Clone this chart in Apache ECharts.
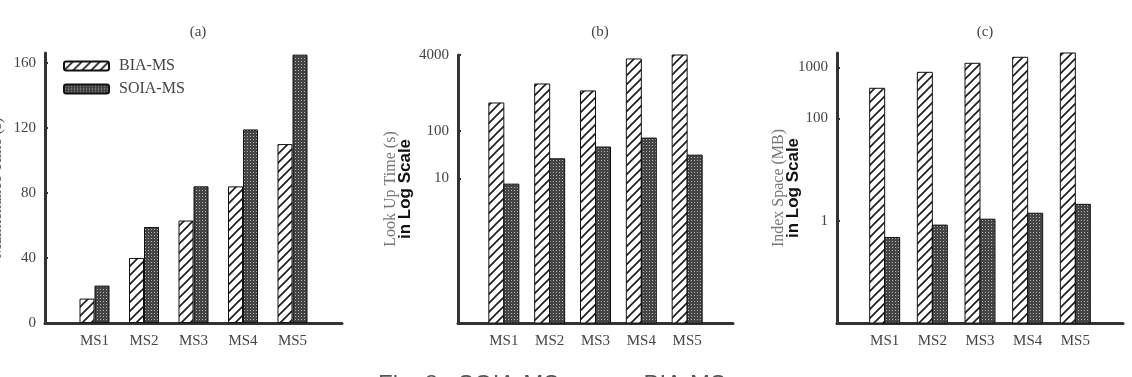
<!DOCTYPE html>
<html>
<head>
<meta charset="utf-8">
<script src="https://cdn.jsdelivr.net/npm/echarts@6/dist/echarts.min.js"></script>
<style>
html, body { margin: 0; padding: 0; background: #fff; }
#chart { width: 1132px; height: 377px; }
</style>
</head>
<body>
<div id="chart"></div>
<script>
var categories = ['MS1', 'MS2', 'MS3', 'MS4', 'MS5'];
var seriesNames = ['BIA-MS', 'SOIA-MS'];
// (a) maintenance time (s)
var maintBIA = [15, 40, 63, 84, 110];
var maintSOIA = [23, 59, 84, 119, 165];
// (b) look up time (s), log scale
var lookupBIA = [390, 980, 700, 3300, 4000];
var lookupSOIA = [7.6, 26, 46, 71, 31];
// (c) index space (MB), log scale
var spaceBIA = [388, 796, 1195, 1566, 1900];
var spaceSOIA = [0.47, 0.82, 1.07, 1.4, 2.09];
// tick labels
var ticksA = [0, 40, 80, 120, 160];
var ticksB = [10, 100, 4000];
var ticksC = [1, 100, 1000];

var serif = '"Liberation Serif", "DejaVu Serif", serif';
var sans = '"Liberation Sans", Arial, sans-serif';

// padded category list so the bars sit one step in from both ends
var axisCats = [''].concat(categories).concat([' ']);

function hatchPattern() {
    var s = 9;
    var c = document.createElement('canvas');
    c.width = s; c.height = s;
    var g = c.getContext('2d');
    g.fillStyle = '#fff';
    g.fillRect(0, 0, s, s);
    g.strokeStyle = '#1a1a1a';
    g.lineWidth = 1.6;
    g.beginPath();
    g.moveTo(0, s); g.lineTo(s, 0);
    g.moveTo(-2, 2); g.lineTo(2, -2);
    g.moveTo(s - 2, s + 2); g.lineTo(s + 2, s - 2);
    g.stroke();
    return { image: c, repeat: 'repeat' };
}

function dotPattern() {
    var c = document.createElement('canvas');
    c.width = 3; c.height = 3;
    var g = c.getContext('2d');
    g.fillStyle = '#454545';
    g.fillRect(0, 0, 3, 3);
    g.fillStyle = '#b0b0b0';
    g.fillRect(1, 1, 1, 1);
    return { image: c, repeat: 'repeat' };
}

var fills = [hatchPattern(), dotPattern()];

function pairs(values) {
    return values.map(function (v, i) { return [categories[i], v]; });
}

// bars on the log axes start from the axis minimum
function logBars(name, values, gridIdx, side, axisMin, fill) {
    return {
        name: name,
        type: 'custom',
        xAxisIndex: gridIdx,
        yAxisIndex: gridIdx,
        data: pairs(values),
        encode: { x: 0, y: 1 },
        renderItem: function (params, api) {
            var top = api.coord([api.value(0), api.value(1)]);
            var base = api.coord([api.value(0), axisMin]);
            var w = 15;
            return {
                type: 'rect',
                shape: { x: side < 0 ? top[0] - w : top[0], y: top[1], width: w, height: base[1] - top[1] },
                style: { fill: fill, stroke: '#111', lineWidth: 1 }
            };
        }
    };
}

function xAxis(gridIdx) {
    return {
        type: 'category',
        gridIndex: gridIdx,
        data: axisCats,
        boundaryGap: false,
        axisLine: { lineStyle: { color: '#333', width: 3 } },
        axisTick: { show: false },
        axisLabel: { fontFamily: serif, fontSize: 15, color: '#444', margin: 11 },
        splitLine: { show: false }
    };
}

function yAxisBase(gridIdx) {
    return {
        gridIndex: gridIdx,
        nameLocation: 'middle',
        nameRotate: 90,
        nameMoveOverlap: false,
        axisLine: { show: true, lineStyle: { color: '#333', width: 3 } },
        axisTick: { show: true, inside: true, length: 3, lineStyle: { color: '#333', width: 2 } },
        axisLabel: {
            fontFamily: serif, fontSize: 15, color: '#444', margin: 9,
            formatter: function (v) { return String(Math.round(v)); }
        },
        splitLine: { show: false }
    };
}

var logName = {
    rich: {
        a: { fontFamily: serif, fontSize: 16, color: '#777', lineHeight: 15 },
        b: { fontFamily: sans, fontSize: 17, fontWeight: 'bold', color: '#111', lineHeight: 15 }
    }
};

var yA = yAxisBase(0);
yA.type = 'value';
yA.min = 0;
yA.max = 166;
yA.interval = 40;
yA.name = 'Maintenance Time (s)';
yA.nameGap = 40;
yA.nameTextStyle = { fontFamily: serif, fontSize: 16, color: '#555' };
yA.axisLabel.customValues = ticksA;
yA.axisTick.customValues = ticksA;

var yB = yAxisBase(1);
yB.type = 'log';
yB.min = 0.009;
yB.max = 4000;
yB.name = '{a|Look Up Time (s)}\n{b|in Log Scale}';
yB.nameGap = 45;
yB.nameTextStyle = logName;
yB.axisLabel.customValues = ticksB;
yB.axisTick.customValues = ticksB;

var yC = yAxisBase(2);
yC.type = 'log';
yC.min = 0.01;
yC.max = 1900;
yC.name = '{a|Index Space (MB)}\n{b|in Log Scale}';
yC.nameGap = 36;
yC.nameTextStyle = logName;
yC.axisLabel.customValues = ticksC;
yC.axisTick.customValues = ticksC;

function panelTitle(text, x) {
    return {
        text: text, left: x, top: 20, textAlign: 'center',
        textStyle: { fontFamily: serif, fontSize: 15, fontWeight: 'normal', color: '#444' }
    };
}

function grid(l, r, t) {
    return { left: l, right: 1132 - r, top: t, bottom: 54, outerBoundsMode: 'none' };
}

var option = {
    animation: false,
    backgroundColor: '#fff',
    title: [panelTitle('(a)', 193), panelTitle('(b)', 595), panelTitle('(c)', 980)],
    legend: {
        data: seriesNames,
        orient: 'vertical',
        left: 63, top: 58, padding: 0,
        itemWidth: 45, itemHeight: 9, itemGap: 7,
        textStyle: { fontFamily: serif, fontSize: 16, color: '#444', padding: [0, 0, 0, 5] }
    },
    grid: [grid(45, 342, 53), grid(458, 733, 55), grid(837, 1123, 53)],
    xAxis: [xAxis(0), xAxis(1), xAxis(2)],
    yAxis: [yA, yB, yC],
    series: [
        {
            name: seriesNames[0], type: 'bar', xAxisIndex: 0, yAxisIndex: 0,
            barWidth: 15, barGap: '0%', data: pairs(maintBIA),
            itemStyle: { color: fills[0], borderColor: '#111', borderWidth: 1 }
        },
        {
            name: seriesNames[1], type: 'bar', xAxisIndex: 0, yAxisIndex: 0,
            barWidth: 15, barGap: '0%', data: pairs(maintSOIA),
            itemStyle: { color: fills[1], borderColor: '#111', borderWidth: 1 }
        },
        logBars(seriesNames[0], lookupBIA, 1, -1, 0.009, fills[0]),
        logBars(seriesNames[1], lookupSOIA, 1, 1, 0.009, fills[1]),
        logBars(seriesNames[0], spaceBIA, 2, -1, 0.01, fills[0]),
        logBars(seriesNames[1], spaceSOIA, 2, 1, 0.01, fills[1])
    ],
    graphic: [{
        type: 'text', left: 378, top: 373,
        style: { text: 'Fig. 8   SOIA-MS versus BIA-MS', fontFamily: sans, fontSize: 24, fill: '#555' }
    }]
};

var myChart = echarts.init(document.getElementById('chart'));
myChart.setOption(option);
</script>
</body>
</html>
